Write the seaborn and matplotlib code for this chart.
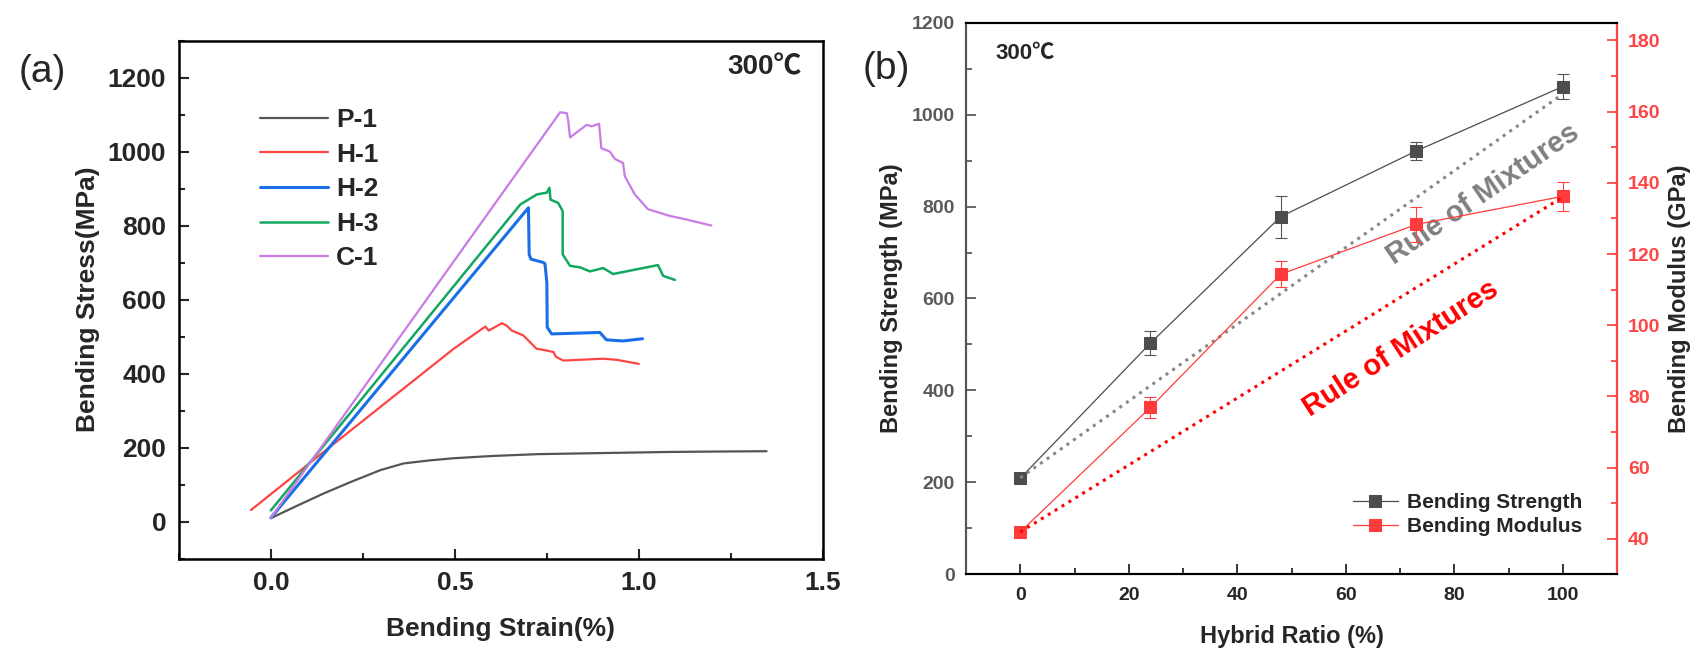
import matplotlib
matplotlib.use('Agg')
import matplotlib.pyplot as plt
import seaborn as sns
import pandas as pd
from matplotlib.ticker import MultipleLocator

# (a) bending stress-strain curves at 300 C
p1_x = [0, 0.07, 0.144, 0.22, 0.298, 0.361, 0.43, 0.497, 0.6, 0.723, 0.9, 1.084, 1.2, 1.347]
p1_y = [9, 42, 76, 108, 139, 157, 165, 171, 177, 182, 185, 188, 189, 190]

h1_x = [-0.054, 0.127, 0.497, 0.583, 0.592, 0.628, 0.640, 0.655, 0.686, 0.722, 0.75, 0.768, 0.775, 0.795, 0.903, 0.94, 1.0]
h1_y = [31, 175, 467, 527, 516, 536, 530, 516, 503, 467, 462, 458, 445, 435, 440, 437, 426]

h2_x = [0, 0.700, 0.702, 0.707, 0.741, 0.745, 0.750, 0.751, 0.763, 0.894, 0.912, 0.957, 1.01]
h2_y = [10, 848, 722, 709, 700, 696, 646, 525, 507, 511, 491, 488, 494]

h3_x = [0, 0.678, 0.723, 0.750, 0.757, 0.760, 0.781, 0.793, 0.793, 0.813, 0.840, 0.867, 0.903, 0.930, 1.052, 1.066, 1.098]
h3_y = [30, 857, 884, 889, 902, 870, 861, 839, 722, 691, 687, 676, 685, 669, 693, 664, 653]

c1_x = [0, 0.786, 0.804, 0.808, 0.813, 0.858, 0.872, 0.892, 0.898, 0.921, 0.935, 0.957, 0.962, 0.989, 1.025, 1.084, 1.126, 1.197]
c1_y = [10, 1106, 1104, 1084, 1038, 1072, 1068, 1075, 1009, 1000, 980, 969, 933, 884, 844, 826, 817, 800]

samples = ['P-1', 'H-1', 'H-2', 'H-3', 'C-1']
sample_colors = ['#555555', '#ff4444', '#1a6fe6', '#12a860', '#c97ce6']
sample_widths = [1.6, 1.6, 2.2, 1.8, 1.6]

# (b) strength / modulus vs hybrid ratio
ratio = [0, 24, 48, 73, 100]
strength = [209, 503, 778, 921, 1061]
strength_err = [8, 27, 46, 20, 27]
modulus = [41.9, 76.9, 114.3, 128.3, 136.2]
modulus_err = [1, 3, 3.6, 5, 4]
rom_strength = [210, 1045]
rom_modulus = [41.9, 136]
rom_x = [0, 100]

sns.set_theme(style='ticks')
plt.rcParams['font.family'] = ['Liberation Sans', 'Noto Sans CJK SC', 'DejaVu Sans']
plt.rcParams['axes.linewidth'] = 1.5

curves = pd.concat([
    pd.DataFrame({'strain': x, 'stress': y, 'sample': s})
    for s, x, y in zip(samples, [p1_x, h1_x, h2_x, h3_x, c1_x], [p1_y, h1_y, h2_y, h3_y, c1_y])
])

fig = plt.figure(figsize=(17.05, 6.59), dpi=100)
ax1 = fig.add_axes([0.1049, 0.1525, 0.3777, 0.7860])
ax2 = fig.add_axes([0.5666, 0.1285, 0.3818, 0.8371])
ax3 = ax2.twinx()

# ---- panel (a)
for s, c, lw in zip(samples, sample_colors, sample_widths):
    sns.lineplot(data=curves[curves['sample'] == s], x='strain', y='stress', sort=False,
                 estimator=None, color=c, lw=lw, label=s, ax=ax1)
ax1.set_xlim(-0.25, 1.5)
ax1.set_ylim(-100, 1300)
ax1.set_xticks([0, 0.5, 1.0, 1.5])
ax1.set_xticklabels(['0.0', '0.5', '1.0', '1.5'])
ax1.set_yticks(range(0, 1201, 200))
ax1.xaxis.set_minor_locator(MultipleLocator(0.25))
ax1.yaxis.set_minor_locator(MultipleLocator(100))
ax1.tick_params(which='major', direction='in', length=7, width=1.5, labelsize=19, pad=9)
ax1.tick_params(which='minor', direction='in', length=4, width=1.5)
for s in ax1.spines.values():
    s.set_color('black')
    s.set_linewidth(1.8)
plt.setp(ax1.get_xticklabels() + ax1.get_yticklabels(), fontweight='bold')
ax1.set_xlabel('Bending Strain(%)', fontsize=19, fontweight='bold', labelpad=16)
ax1.set_ylabel('Bending Stress(MPa)', fontsize=19, fontweight='bold', labelpad=6)
ax1.legend(loc='upper left', bbox_to_anchor=(0.105, 0.895), frameon=False, borderpad=0,
           handlelength=2.6, handletextpad=0.3, labelspacing=0.4,
           prop={'size': 19, 'weight': 'bold'})
ax1.text(0.967, 0.948, '300℃', transform=ax1.transAxes, ha='right', va='center',
         fontsize=20, fontweight='bold')
fig.text(0.025, 0.89, '(a)', fontsize=28, ha='center', va='center')

# ---- panel (b)
ax2.errorbar(ratio, strength, yerr=strength_err, fmt='none', ecolor='#555555',
             elinewidth=0.8, capsize=4, capthick=0.8)
sns.lineplot(x=ratio, y=strength, color='#4d4d4d', lw=0.9, marker='s', markersize=9,
             markeredgecolor='#4d4d4d', label='Bending Strength', ax=ax2, legend=False)
ax2.plot(rom_x, rom_strength, ls=':', color='#888888', lw=2.2)

ax3.errorbar(ratio, modulus, yerr=modulus_err, fmt='none', ecolor='#ff4444',
             elinewidth=0.8, capsize=4, capthick=0.8)
sns.lineplot(x=ratio, y=modulus, color='#ff3b3b', lw=0.9, marker='s', markersize=9,
             markeredgecolor='#ff3b3b', label='Bending Modulus', ax=ax3, legend=False)
ax3.plot(rom_x, rom_modulus, ls=':', color='#ff0000', lw=2.2)

ax2.set_xlim(-10, 110)
ax2.set_ylim(0, 1200)
ax3.set_ylim(30, 185)
ax2.set_xticks(range(0, 101, 20))
ax2.set_yticks(range(0, 1201, 200))
ax3.set_yticks(range(40, 181, 20))
ax2.xaxis.set_minor_locator(MultipleLocator(10))
ax2.yaxis.set_minor_locator(MultipleLocator(100))
ax3.yaxis.set_minor_locator(MultipleLocator(10))

ax2.tick_params(axis='x', which='major', direction='in', length=7, width=1.3, labelsize=14, pad=9)
ax2.tick_params(axis='x', which='minor', direction='in', length=4, width=1.3)
ax2.tick_params(axis='y', which='major', direction='in', length=7, width=1.3, labelsize=14,
                pad=8, colors='#5a5a5a')
ax2.tick_params(axis='y', which='minor', direction='in', length=4, width=1.3, colors='#5a5a5a')
ax3.tick_params(axis='y', which='major', direction='in', length=7, width=1.3, labelsize=14,
                pad=8, colors='#ff4444')
ax3.tick_params(axis='y', which='minor', direction='in', length=4, width=1.3, colors='#ff4444')
plt.setp(ax2.get_xticklabels() + ax2.get_yticklabels() + ax3.get_yticklabels(), fontweight='bold')

for a in (ax2, ax3):
    for s in a.spines.values():
        s.set_linewidth(1.5)
        s.set_color('black')
ax2.spines['left'].set_color('#555555')
ax3.spines['left'].set_color('#555555')
ax3.spines['right'].set_color('#ff4444')

ax2.set_xlabel('Hybrid Ratio (%)', fontsize=17, fontweight='bold', labelpad=15)
ax2.set_ylabel('Bending Strength (MPa)', fontsize=17, fontweight='bold', labelpad=6)
ax3.set_ylabel('Bending Modulus (GPa)', fontsize=17, fontweight='bold', labelpad=5)

ax2.text(0.045, 0.945, '300℃', transform=ax2.transAxes, ha='left', va='center',
         fontsize=16, fontweight='bold')
ax2.text(85.3, 827, 'Rule of Mixtures', color='#808080', fontsize=21, fontweight='bold',
         rotation=34.5, ha='center', va='center', rotation_mode='anchor')
ax3.text(70.2, 93.5, 'Rule of Mixtures', color='#ff0000', fontsize=21, fontweight='bold',
         rotation=33, ha='center', va='center', rotation_mode='anchor')

h2, l2 = ax2.get_legend_handles_labels()
h3, l3 = ax3.get_legend_handles_labels()
ax3.legend(h2 + h3, l2 + l3, loc='lower right', bbox_to_anchor=(0.975, 0.035), frameon=False,
           handlelength=2.2, handletextpad=0.4, labelspacing=0.25,
           prop={'size': 15, 'weight': 'bold'})
fig.text(0.52, 0.895, '(b)', fontsize=28, ha='center', va='center')

fig.savefig('out.png', dpi=100)
